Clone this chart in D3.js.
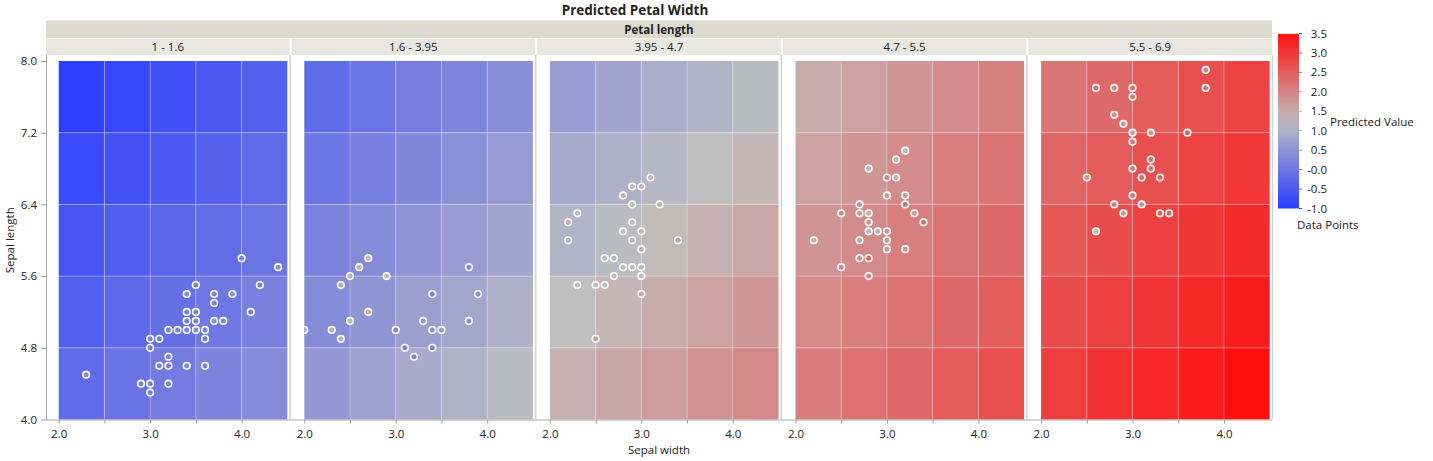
<!DOCTYPE html>
<html>
<head>
<meta charset="utf-8">
<script src="https://cdn.jsdelivr.net/npm/d3@7"></script>
<style>
  html, body { margin: 0; padding: 0; background: #fff; }
  svg text { font-family: "Open Sans", "Liberation Sans", Arial, sans-serif; fill: #222; }
</style>
</head>
<body>
<svg id="chart" width="1433" height="461"></svg>
<script>
// ---------------- DATA ----------------
const title = "Predicted Petal Width";
const facetTitle = "Petal length";
const petalBins = ["1 - 1.6", "1.6 - 3.95", "3.95 - 4.7", "4.7 - 5.5", "5.5 - 6.9"];
const xTicks = [2.0, 2.5, 3.0, 3.5, 4.0];
const xTickLabels = ["2.0", "", "3.0", "", "4.0"];
const yTicks = [4.0, 4.8, 5.6, 6.4, 7.2, 8.0];
const legendTicks = [3.5, 3.0, 2.5, 2.0, 1.5, 1.0, 0.5, 0.0, -0.5, -1.0];
const legendTickLabels = ["3.5", "3.0", "2.5", "2.0", "1.5", "1.0", "0.5", "-0.0", "-0.5", "-1.0"];
// grid cell bounds
const sepalWidthEdges = [2.0, 2.5, 3.0, 3.5, 4.0, 4.5];
const sepalLengthEdges = [8.0, 7.2, 6.4, 5.6, 4.8, 4.0];

// predicted values per cell; rows top (7.2-8.0) to bottom (4.0-4.8), columns sepal width 2.0-2.5 ... 4.0-4.5
const predBin1 = [
  [-0.95, -0.81, -0.67, -0.53, -0.39],
  [-0.77, -0.63, -0.49, -0.35, -0.21],
  [-0.58, -0.44, -0.30, -0.16, -0.02],
  [-0.39, -0.25, -0.11, 0.03, 0.17],
  [-0.20, -0.06, 0.08, 0.22, 0.37]
];
const predBin2 = [
  [-0.19, -0.04, 0.11, 0.26, 0.41],
  [0.00, 0.15, 0.30, 0.45, 0.60],
  [0.19, 0.34, 0.49, 0.64, 0.79],
  [0.38, 0.53, 0.68, 0.83, 0.98],
  [0.57, 0.72, 0.87, 1.02, 1.18]
];
const predBin3 = [
  [0.65, 0.78, 0.91, 1.04, 1.17],
  [0.85, 0.98, 1.11, 1.24, 1.37],
  [1.05, 1.18, 1.31, 1.44, 1.57],
  [1.25, 1.38, 1.51, 1.64, 1.77],
  [1.45, 1.58, 1.71, 1.84, 1.96]
];
const predBin4 = [
  [1.50, 1.64, 1.78, 1.92, 2.06],
  [1.65, 1.79, 1.93, 2.07, 2.21],
  [1.80, 1.94, 2.08, 2.22, 2.36],
  [1.95, 2.09, 2.23, 2.37, 2.51],
  [2.10, 2.24, 2.38, 2.52, 2.67]
];
const predBin5 = [
  [2.22, 2.37, 2.52, 2.67, 2.82],
  [2.39, 2.54, 2.69, 2.84, 2.99],
  [2.56, 2.71, 2.86, 3.01, 3.16],
  [2.73, 2.88, 3.03, 3.18, 3.33],
  [2.90, 3.05, 3.20, 3.35, 3.50]
];

// data points: [sepal width, sepal length, petal width]
const pointsBin1 = [
  [4.0,5.8,0.2],[4.4,5.7,0.4],[3.5,5.5,0.2],[4.2,5.5,0.2],[3.4,5.4,0.4],[3.7,5.4,0.2],[3.9,5.4,0.4],
  [3.7,5.3,0.2],[3.4,5.2,0.2],[3.5,5.2,0.2],[4.1,5.2,0.1],[3.4,5.1,0.2],[3.5,5.1,0.2],[3.7,5.1,0.4],
  [3.8,5.1,0.3],[3.2,5.0,0.2],[3.3,5.0,0.2],[3.4,5.0,0.2],[3.5,5.0,0.3],[3.6,5.0,0.2],[3.0,4.9,0.2],
  [3.1,4.9,0.1],[3.6,4.9,0.1],[3.0,4.8,0.1],[3.2,4.7,0.2],[3.1,4.6,0.2],[3.2,4.6,0.2],[3.4,4.6,0.3],
  [3.6,4.6,0.2],[2.3,4.5,0.3],[2.9,4.4,0.2],[3.0,4.4,0.2],[3.2,4.4,0.2],[3.0,4.3,0.1]
];
const pointsBin2 = [
  [2.7,5.8,1.2],[2.6,5.7,1.0],[2.5,5.6,1.1],[2.9,5.6,1.3],[2.4,5.5,1.0],[3.8,5.7,0.3],[3.4,5.4,0.2],
  [3.9,5.4,0.4],[2.7,5.2,1.4],[2.5,5.1,1.1],[3.8,5.1,0.4],[3.3,5.1,0.5],[2.0,5.0,1.0],[2.3,5.0,1.0],
  [3.0,5.0,0.2],[3.4,5.0,0.4],[3.5,5.0,0.6],[2.4,4.9,1.0],[3.1,4.8,0.2],[3.4,4.8,0.2],[3.2,4.7,0.2]
];
const pointsBin3 = [
  [3.1,6.7,1.4],[2.9,6.6,1.3],[3.0,6.6,1.4],[2.8,6.5,1.5],[2.9,6.4,1.3],[3.2,6.4,1.5],[2.3,6.3,1.3],
  [2.2,6.2,1.5],[2.9,6.2,1.3],[2.8,6.1,1.2],[3.0,6.1,1.4],[2.2,6.0,1.0],[2.9,6.0,1.5],[3.4,6.0,1.6],
  [3.0,5.9,1.5],[2.6,5.8,1.2],[2.7,5.8,1.0],[2.8,5.7,1.3],[2.9,5.7,1.3],[3.0,5.7,1.2],[2.7,5.6,1.3],
  [3.0,5.6,1.3],[2.3,5.5,1.3],[2.5,5.5,1.3],[2.6,5.5,1.2],[3.0,5.4,1.5],[2.5,4.9,1.7]
];
const pointsBin4 = [
  [3.2,7.0,1.4],[3.1,6.9,1.5],[2.8,6.8,1.4],[3.0,6.7,2.0],[3.1,6.7,1.5],[3.0,6.5,1.8],[3.2,6.5,1.8],
  [2.7,6.4,1.9],[3.2,6.4,2.3],[2.5,6.3,1.9],[2.7,6.3,1.8],[2.8,6.3,1.5],[3.3,6.3,1.6],[3.4,6.2,2.3],
  [2.8,6.2,1.8],[2.8,6.1,1.2],[2.9,6.1,1.4],[3.0,6.1,1.8],[2.2,6.0,1.5],[2.7,6.0,1.6],[3.0,6.0,1.8],
  [3.0,5.9,1.8],[3.2,5.9,1.8],[2.7,5.8,1.9],[2.8,5.8,2.4],[2.5,5.7,2.0],[2.8,5.6,2.0]
];
const pointsBin5 = [
  [3.8,7.9,2.0],[2.6,7.7,2.3],[2.8,7.7,2.0],[3.0,7.7,2.3],[3.8,7.7,2.2],[3.0,7.6,2.1],[2.8,7.4,1.9],
  [2.9,7.3,1.8],[3.0,7.2,1.6],[3.2,7.2,1.8],[3.6,7.2,2.5],[3.0,7.1,2.1],[3.2,6.9,2.3],[3.0,6.8,2.1],
  [3.2,6.8,2.3],[2.5,6.7,1.8],[3.1,6.7,2.4],[3.3,6.7,2.5],[3.0,6.5,2.2],[2.8,6.4,2.1],[3.1,6.4,1.8],
  [2.9,6.3,1.8],[3.3,6.3,2.5],[3.4,6.3,2.4],[2.6,6.1,1.4]
];

const predGrids = [predBin1, predBin2, predBin3, predBin4, predBin5];
const pointSets = [pointsBin1, pointsBin2, pointsBin3, pointsBin4, pointsBin5];

// ---------------- LAYOUT ----------------
const svg = d3.select("#chart");
const plotLeft = 46, plotRight = 1272;
const panelPitch = (plotRight - plotLeft + 2) / 5;
const panelW = panelPitch - 2;
const xPad = 12.7;
const plotTop = 61, plotBottom = 419.5;

const color = d3.scaleLinear()
  .domain([-1, 1.25, 3.5])
  .range(["#2b3cff", "#c0c0c0", "#ff0f0f"])
  .interpolate(d3.interpolateRgb)
  .clamp(true);

const y = d3.scaleLinear().domain([4, 8]).range([plotBottom, plotTop]);

// title
svg.append("text").attr("x", 635).attr("y", 15).attr("text-anchor", "middle")
  .style("font-size", "13.5px").style("font-weight", "bold").text(title);

// header band
svg.append("rect").attr("x", plotLeft).attr("y", 20.5).attr("width", plotRight - plotLeft).attr("height", 17.5)
  .attr("fill", "#dcdbcd");
svg.append("text").attr("x", (plotLeft + plotRight) / 2).attr("y", 33.5).attr("text-anchor", "middle")
  .style("font-size", "11.5px").style("font-weight", "bold").text(facetTitle);

petalBins.forEach((lab, i) => {
  const left = plotLeft + i * panelPitch;
  svg.append("rect").attr("x", left).attr("y", 38.5).attr("width", panelW).attr("height", 16.5)
    .attr("fill", "#e9e8e0");
  svg.append("text").attr("x", left + panelW / 2).attr("y", 51).attr("text-anchor", "middle")
    .style("font-size", "11.5px").text(lab);
});

// panels
petalBins.forEach((lab, i) => {
  const left = plotLeft + i * panelPitch;
  const x = d3.scaleLinear().domain([2, 4.5]).range([left + xPad, left + panelW - 2.3]);
  const g = svg.append("g");
  const grid = predGrids[i];
  grid.forEach((row, r) => {
    row.forEach((v, c) => {
      const x0 = x(sepalWidthEdges[c]), x1 = x(sepalWidthEdges[c + 1]);
      const y0 = y(sepalLengthEdges[r]), y1 = y(sepalLengthEdges[r + 1]);
      g.append("rect").attr("x", x0).attr("y", y0).attr("width", x1 - x0).attr("height", y1 - y0)
        .attr("fill", color(v));
    });
  });
  sepalWidthEdges.slice(1, -1).forEach(v => {
    g.append("line").attr("x1", x(v)).attr("x2", x(v)).attr("y1", plotTop).attr("y2", plotBottom)
      .attr("stroke", "rgba(255,255,255,0.3)").attr("stroke-width", 1);
  });
  sepalLengthEdges.slice(1, -1).forEach(v => {
    g.append("line").attr("x1", x(2)).attr("x2", x(4.5)).attr("y1", y(v)).attr("y2", y(v))
      .attr("stroke", "rgba(255,255,255,0.3)").attr("stroke-width", 1);
  });
  g.append("line").attr("x1", left + panelW + 0.5).attr("x2", left + panelW + 0.5)
    .attr("y1", plotTop - 6).attr("y2", plotBottom).attr("stroke", "#d4d4d4").attr("stroke-width", 1.5);

  const clipId = "clip" + i;
  svg.append("clipPath").attr("id", clipId).append("rect")
    .attr("x", x(2)).attr("y", plotTop).attr("width", x(4.5) - x(2)).attr("height", plotBottom - plotTop);
  g.append("g").attr("clip-path", `url(#${clipId})`)
    .selectAll("circle").data(pointSets[i]).join("circle")
    .attr("cx", d => x(d[0])).attr("cy", d => y(d[1])).attr("r", 3.3)
    .attr("fill", d => color(d[2])).attr("stroke", "#fff").attr("stroke-width", 1.6);

  const ax = d3.axisBottom(x).tickValues(xTicks).tickFormat((d, k) => xTickLabels[k])
    .tickSizeOuter(0).tickSize(4).tickPadding(6);
  const axg = svg.append("g").attr("transform", `translate(0,${plotBottom})`).call(ax);
  axg.select(".domain").remove();
  axg.selectAll(".tick line").attr("stroke", "#999");
  axg.selectAll(".tick text").style("font-size", "11.5px").attr("fill", "#222")
    .style("font-family", "'Open Sans', 'Liberation Sans', Arial, sans-serif");
});

svg.append("line").attr("x1", plotLeft).attr("x2", plotRight).attr("y1", plotBottom + 0.5).attr("y2", plotBottom + 0.5)
  .attr("stroke", "#aaa");
const ay = d3.axisLeft(y).tickValues(yTicks).tickFormat(d3.format(".1f")).tickSizeOuter(0).tickSize(5).tickPadding(4);
const ayg = svg.append("g").attr("transform", `translate(${plotLeft},0)`).call(ay);
ayg.select(".domain").attr("stroke", "#aaa").attr("d", `M0.5,${plotTop - 6}V${plotBottom + 0.5}`);
ayg.selectAll(".tick line").attr("stroke", "#999");
ayg.selectAll(".tick text").style("font-size", "11.5px").attr("fill", "#222")
  .style("font-family", "'Open Sans', 'Liberation Sans', Arial, sans-serif");

svg.append("text").attr("x", (plotLeft + plotRight) / 2).attr("y", 454).attr("text-anchor", "middle")
  .style("font-size", "11.5px").text("Sepal width");
svg.append("text").attr("transform", `translate(14,${(plotTop + plotBottom) / 2}) rotate(-90)`).attr("text-anchor", "middle")
  .style("font-size", "11.5px").text("Sepal length");

// ---------------- LEGEND ----------------
const legX = 1278, legW = 21, legTop = 33.5, legBottom = 208.5;
const ly = d3.scaleLinear().domain([-1, 3.5]).range([legBottom, legTop]);
const defs = svg.append("defs");
const grad = defs.append("linearGradient").attr("id", "legGrad").attr("x1", 0).attr("y1", 1).attr("x2", 0).attr("y2", 0);
legendTicks.slice().reverse().forEach(v => {
  grad.append("stop").attr("offset", (v + 1) / 4.5).attr("stop-color", color(v));
});
grad.append("stop").attr("offset", 0.5).attr("stop-color", color(1.25));
grad.selectAll("stop").sort((a, b) => 0);
svg.append("rect").attr("x", legX).attr("y", legTop).attr("width", legW).attr("height", legBottom - legTop)
  .attr("fill", "url(#legGrad)");
legendTicks.forEach((v, k) => {
  svg.append("line").attr("x1", legX + legW).attr("x2", legX + legW + 3).attr("y1", ly(v)).attr("y2", ly(v))
    .attr("stroke", color(v)).attr("stroke-width", 1);
  svg.append("text").attr("x", 1327).attr("y", ly(v) + 4).attr("text-anchor", "end")
    .style("font-size", "11.5px").text(legendTickLabels[k]);
});
svg.append("text").attr("x", 1330).attr("y", 126).style("font-size", "11.5px").text("Predicted Value");
svg.append("text").attr("x", 1297).attr("y", 229).style("font-size", "11.5px").text("Data Points");
</script>
</body>
</html>
